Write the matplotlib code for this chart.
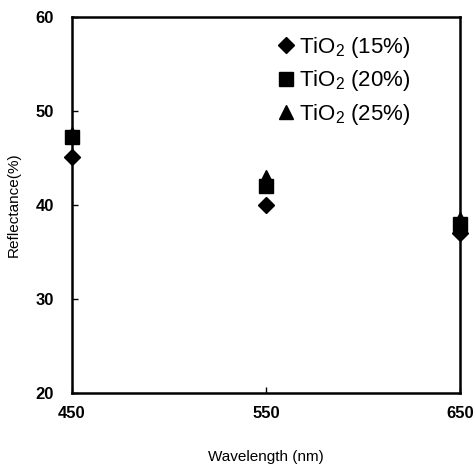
import matplotlib.pyplot as plt

# data
wavelength = [450, 550, 650]
r15 = [45.1, 40.0, 37.0]
r20 = [47.2, 42.0, 38.0]
r25 = [47.5, 43.0, 38.5]
labels = ['TiO$_2$ (15%)', 'TiO$_2$ (20%)', 'TiO$_2$ (25%)']

plt.rcParams['font.family'] = ['Liberation Sans', 'DejaVu Sans']
plt.rcParams['mathtext.fontset'] = 'custom'
plt.rcParams['mathtext.rm'] = 'Liberation Sans'

fig = plt.figure(figsize=(4.77, 4.67), dpi=100)
ax = fig.add_axes([0.151, 0.158, 0.813, 0.806])

ax.plot(wavelength, r25, linestyle='none', marker='^', color='black', markersize=10,
        label=labels[2], clip_on=False)
ax.plot(wavelength, r20, linestyle='none', marker='s', color='black', markersize=10,
        label=labels[1], clip_on=False)
ax.plot(wavelength, r15, linestyle='none', marker='D', color='black', markersize=8,
        label=labels[0], clip_on=False)

ax.set_xlim(450, 650)
ax.set_ylim(20, 60)
ax.set_xticks([450, 550, 650])
ax.set_yticks([20, 30, 40, 50, 60])
ax.tick_params(direction='in', length=4, width=1, labelsize=12)
ax.tick_params(axis='x', pad=9)
ax.tick_params(axis='y', pad=13)
for lbl in ax.get_xticklabels() + ax.get_yticklabels():
    lbl.set_fontweight('bold')
for sp in ax.spines.values():
    sp.set_linewidth(1.8)

ax.set_xlabel('Wavelength (nm)', fontsize=11, labelpad=21)
ax.set_ylabel('Reflectance(%)', fontsize=11, labelpad=11)

h, l = ax.get_legend_handles_labels()
ax.legend(h[::-1], l[::-1], loc='upper right', frameon=False, fontsize=16,
          handletextpad=0.1, labelspacing=0.38, handlelength=1.0,
          bbox_to_anchor=(0.925, 1.005))

fig.savefig('out.png', dpi=100)
